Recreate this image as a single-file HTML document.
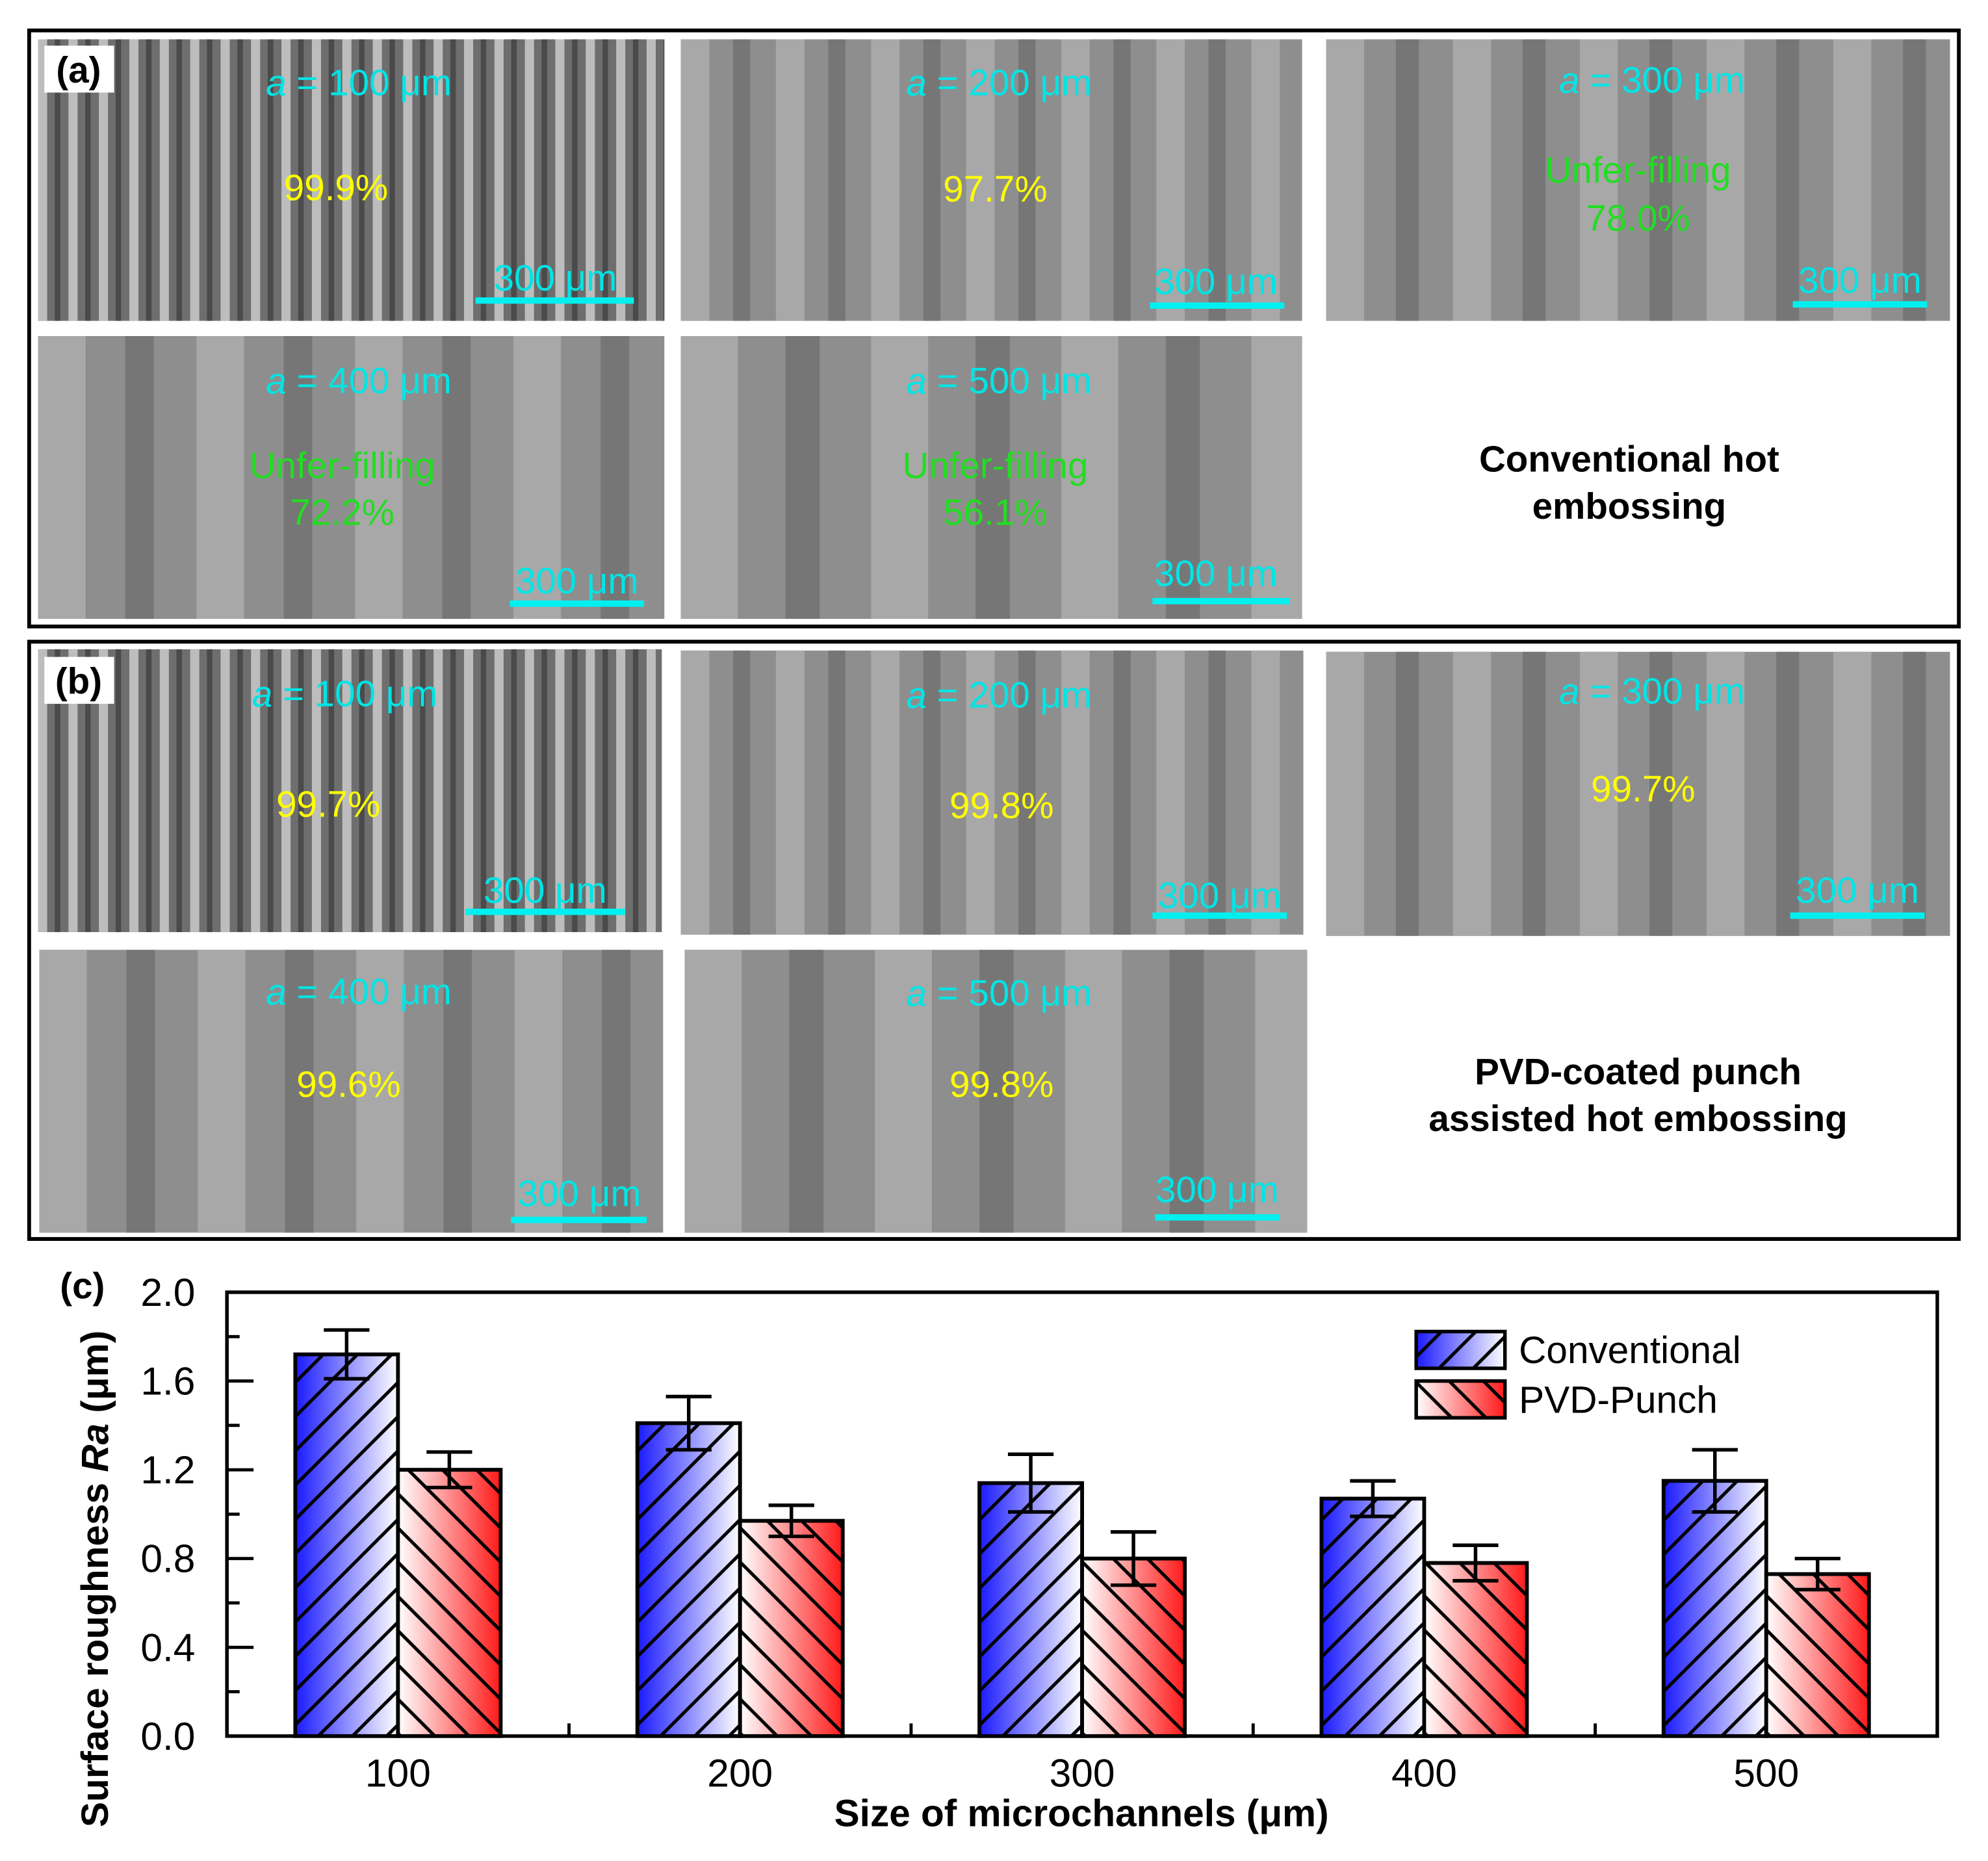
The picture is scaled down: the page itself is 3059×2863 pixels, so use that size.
<!DOCTYPE html>
<html><head><meta charset="utf-8"><style>
html,body{margin:0;padding:0;background:#fff}
svg{display:block}
text{font-family:"Liberation Sans",sans-serif}
</style></head><body>
<svg id="fig" width="3059" height="2863" viewBox="0 0 1568 1467.5" preserveAspectRatio="none" xmlns="http://www.w3.org/2000/svg">
<defs>
<linearGradient id="gBlue" x1="0" x2="1" y1="0" y2="0"><stop offset="0" stop-color="#1a1aff"/><stop offset="1" stop-color="#ffffff"/></linearGradient>
<linearGradient id="gRed" x1="0" x2="1" y1="0" y2="0"><stop offset="0" stop-color="#ffffff"/><stop offset="1" stop-color="#ff1a1a"/></linearGradient>
<pattern id="hBlue" patternUnits="userSpaceOnUse" width="27" height="27"><path d="M-7,7 L7,-7 M0,27 L27,0 M20,34 L34,20" stroke="#000" stroke-width="2.6"/></pattern>
<pattern id="hRed" patternUnits="userSpaceOnUse" width="27" height="27"><path d="M-7,20 L7,34 M0,0 L27,27 M20,-7 L34,7" stroke="#000" stroke-width="2.6"/></pattern>
</defs>
<rect x="23" y="24" width="1522" height="470" fill="none" stroke="#000" stroke-width="3"/>
<rect x="23" y="506" width="1522" height="471" fill="none" stroke="#000" stroke-width="3"/>
<g id="sem"></g>
<text x="1285" y="362" text-anchor="middle" dominant-baseline="central" font-size="29" font-weight="bold">Conventional hot</text>
<text x="1285" y="399" text-anchor="middle" dominant-baseline="central" font-size="29" font-weight="bold">embossing</text>
<text x="1292" y="845" text-anchor="middle" dominant-baseline="central" font-size="29" font-weight="bold">PVD-coated punch</text>
<text x="1292" y="882" text-anchor="middle" dominant-baseline="central" font-size="29" font-weight="bold">assisted  hot embossing</text>
<g id="chart"></g>
</svg>
<script>
const NS="http://www.w3.org/2000/svg";
function mk(parent,tag,attrs,txt){const e=document.createElementNS(NS,tag);for(const k in attrs)e.setAttribute(k,attrs[k]);if(txt!==undefined)e.textContent=txt;parent.appendChild(e);return e;}
const sem=document.getElementById('sem');
const imgs=[
 {x:30,y:31,w:494,h:222,a:100,t:[283,65],p:["99.9%"],py:[148],px:265,col:"#ffff00",bar:[375,500,237],bt:[438,219]},
 {x:537,y:31,w:490,h:222,a:200,t:[788,65],p:["97.7%"],py:[149],px:785,col:"#ffff00",bar:[907,1013,241],bt:[959,222]},
 {x:1046,y:31,w:492,h:222,a:300,t:[1303,63],p:["Unfer-filling","78.0%"],py:[134,172],px:1292,col:"#22dd22",bar:[1414,1520,240],bt:[1467,221]},
 {x:30,y:265,w:494,h:223,a:400,t:[283,300],p:["Unfer-filling","72.2%"],py:[367,404],px:270,col:"#22dd22",bar:[402,508,476],bt:[455,458]},
 {x:537,y:265,w:490,h:223,a:500,t:[788,300],p:["Unfer-filling","56.1%"],py:[367,404],px:785,col:"#22dd22",bar:[909,1017,474],bt:[959,452]},
 {x:30,y:512,w:492,h:223,a:100,t:[272,547],p:["99.7%"],py:[634],px:259,col:"#ffff00",bar:[367,493,719],bt:[430,702]},
 {x:537,y:513,w:491,h:224,a:200,t:[788,548],p:["99.8%"],py:[635],px:790,col:"#ffff00",bar:[909,1015,722],bt:[962,706]},
 {x:1046,y:514,w:492,h:224,a:300,t:[1303,545],p:["99.7%"],py:[622],px:1296,col:"#ffff00",bar:[1412,1518,722],bt:[1465,702]},
 {x:31,y:749,w:492,h:223,a:400,t:[283,782],p:["99.6%"],py:[855],px:275,col:"#ffff00",bar:[403,510,962],bt:[457,941]},
 {x:540,y:749,w:491,h:223,a:500,t:[788,783],p:["99.8%"],py:[855],px:790,col:"#ffff00",bar:[911,1009,960],bt:[960,938]}
];
imgs.forEach((m,i)=>{
 const g=mk(sem,'g',{});
 
 
 const dark=m.a===100;
 mk(g,'rect',{x:m.x,y:m.y,width:m.w,height:m.h,fill:dark?'#6e6e6e':'#8e8e8e'});
 const per=m.a===100?24:m.a/4+25;
 for(let s=m.x;s<m.x+m.w;s+=per){
   const lw=Math.min(per*0.3,m.x+m.w-s);
   mk(g,'rect',{x:s,y:m.y,width:lw,height:m.h,fill:dark?'#bdbdbd':'#a8a8a8'});
   const dx=s+per*0.55;
   if(dx<m.x+m.w) mk(g,'rect',{x:dx,y:m.y,width:Math.min(per*0.18,m.x+m.w-dx),height:m.h,fill:dark?'#4a4a4a':'#767676'});
 }
 const tt=mk(g,'text',{x:m.t[0],y:m.t[1],'text-anchor':'middle','dominant-baseline':'central','font-size':29,fill:'#00e5e5'});
 mk(tt,'tspan',{'font-style':'italic'},'a');
 tt.appendChild(document.createTextNode(' = '+m.a+' μm'));
 m.p.forEach((s,k)=>mk(g,'text',{x:m.px,y:m.py[k],'text-anchor':'middle','dominant-baseline':'central','font-size':29,fill:m.col},s));
 mk(g,'line',{x1:m.bar[0],x2:m.bar[1],y1:m.bar[2],y2:m.bar[2],stroke:'#00f0f0','stroke-width':5});
 mk(g,'text',{x:m.bt[0],y:m.bt[1],'text-anchor':'middle','dominant-baseline':'central','font-size':29,fill:'#00e5e5'},'300 μm');
});
[['(a)',36],['(b)',518]].forEach(([l,y])=>{
 const g=mk(sem,'g',{});
 
 
 mk(g,'rect',{x:35,y:y,width:55,height:37,fill:'#fff'});
 mk(g,'text',{x:62,y:y+19,'text-anchor':'middle','dominant-baseline':'central','font-size':29,'font-weight':'bold'},l);
});

const categories=["100","200","300","400","500"];
const conventional=[1.72,1.41,1.14,1.07,1.15];
const conventionalErr=[0.11,0.12,0.13,0.08,0.14];
const pvdPunch=[1.20,0.97,0.80,0.78,0.73];
const pvdPunchErr=[0.08,0.07,0.12,0.08,0.07];
const yTicks=[0,0.4,0.8,1.2,1.6,2.0];

const ch=document.getElementById('chart');
const L=179,R=1528,T=1019,B=1369,yMax=2.0;
const y=v=>B-(v/yMax)*(B-T);
const step=(R-L)/5;
const xc=i=>L+step*(i+0.5);
const bw=81;
const lbl=mk(ch,'text',{x:65,y:1014,'text-anchor':'middle','dominant-baseline':'central','font-size':29,'font-weight':'bold'},'(c)');


categories.forEach((c,i)=>{
 [[conventional,conventionalErr,'gBlue','hBlue',-bw,'conventional'],[pvdPunch,pvdPunchErr,'gRed','hRed',0,'pvd']].forEach(([vals,errs,gr,ht,off,nm])=>{
  const x0=xc(i)+off, v=vals[i];
  const g=mk(ch,'g',{});
  
  
  mk(g,'rect',{x:x0,y:y(v),width:bw,height:B-y(v),fill:'url(#'+gr+')'});
  mk(g,'rect',{x:x0,y:y(v),width:bw,height:B-y(v),fill:'url(#'+ht+')',stroke:'#000','stroke-width':3});
  const ex=x0+bw/2, e=errs[i];
  const eb=mk(ch,'path',{d:`M${ex},${y(v+e)}V${y(v-e)}M${ex-18},${y(v+e)}H${ex+18}M${ex-18},${y(v-e)}H${ex+18}`,stroke:'#000','stroke-width':2.8,fill:'none'});
  
  
 });
 const t=mk(ch,'text',{x:xc(i),y:1398,'text-anchor':'middle','dominant-baseline':'central','font-size':31},c);
 
 
});
const fr=mk(ch,'rect',{x:L,y:T,width:R-L,height:B-T,fill:'none',stroke:'#000','stroke-width':2.8});


for(let i=1;i<5;i++){const tk=mk(ch,'line',{x1:L+step*i,x2:L+step*i,y1:B,y2:B-10,stroke:'#000','stroke-width':2.5});
 
 }
for(let v=0.2;v<2.0;v+=0.2){const major=Math.abs((v/0.4)-Math.round(v/0.4))<0.01;
 const tk=mk(ch,'line',{x1:L,x2:L+(major?21:10),y1:y(v),y2:y(v),stroke:'#000','stroke-width':2.5});
 
 }
yTicks.forEach(v=>{const t=mk(ch,'text',{x:154,y:y(v),'text-anchor':'end','dominant-baseline':'central','font-size':31},v.toFixed(1));
 
 });
const xt=mk(ch,'text',{x:853,y:1430,'text-anchor':'middle','dominant-baseline':'central','font-size':30,'font-weight':'bold'},'Size of microchannels (μm)');


const yt=mk(ch,'text',{x:0,y:0,'text-anchor':'middle','dominant-baseline':'central','font-size':30,'font-weight':'bold',transform:'translate(75,1245) rotate(-90)'});


yt.appendChild(document.createTextNode('Surface roughness '));
mk(yt,'tspan',{'font-style':'italic'},'Ra');
yt.appendChild(document.createTextNode(' (μm)'));
[['Conventional','gBlue','hBlue',1050],['PVD-Punch','gRed','hRed',1089]].forEach(([n,gr,ht,ly])=>{
 const g=mk(ch,'g',{});
 
 
 mk(g,'rect',{x:1117,y:ly,width:70,height:29,fill:'url(#'+gr+')'});
 mk(g,'rect',{x:1117,y:ly,width:70,height:29,fill:'url(#'+ht+')',stroke:'#000','stroke-width':2.8});
 mk(g,'text',{x:1198,y:ly+15,'dominant-baseline':'central','font-size':30},n);
});
</script>
</body></html>
